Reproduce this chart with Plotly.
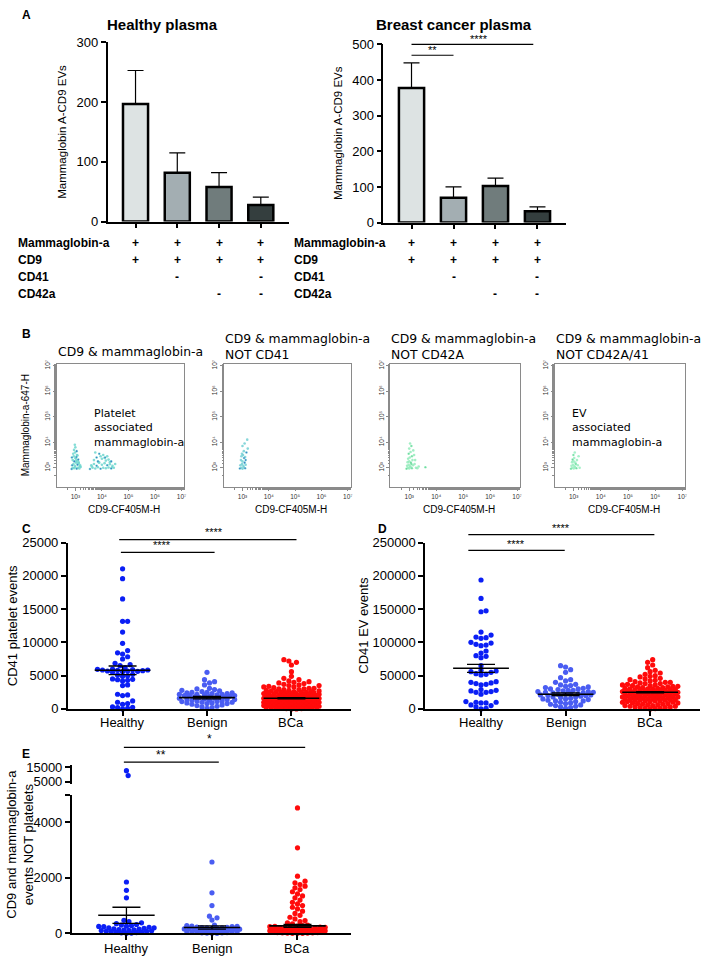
import plotly.graph_objects as go
import math

W, H = 713, 965

# ---------------- DATA ----------------
healthy_plasma_mean = [197, 82, 58, 28]
healthy_plasma_sem = [56, 33, 24, 13]
bc_plasma_mean = [378, 70, 103, 32]
bc_plasma_sem = [70, 30, 22, 12]
bar_colors = ["#dde3e3", "#a3aeb2", "#707c7c", "#343e3e"]

table_rows = ["Mammaglobin-a", "CD9", "CD41", "CD42a"]
table_marks = [["+", "+", "+", "+"], ["+", "+", "+", "+"], ["", "-", "", "-"], ["", "", "-", "-"]]

flow_titles = ["CD9 & mammaglobin-a", "CD9 & mammaglobin-a<br>NOT CD41",
               "CD9 & mammaglobin-a<br>NOT CD42A", "CD9 & mammaglobin-a<br>NOT CD42A/41"]
flow_tick_vals = [3, 4, 5, 6, 7]
flow_tick_text = ["10³", "10⁴", "10⁵", "10⁶", "10⁷"]

f1_logx = [2.86, 2.9, 2.95, 3.0, 3.05, 3.1, 3.15, 3.2, 2.88, 2.93, 2.98, 3.03, 3.08, 3.13, 3.18, 2.9, 2.96, 3.02,
           3.07, 3.12, 2.87, 2.94, 3.0, 3.06, 3.11, 3.17, 2.92, 2.99, 3.04, 3.1, 2.95, 3.0, 3.05, 2.98, 3.08, 3.02,
           3.55, 3.65, 3.75, 3.85, 3.95, 4.05, 4.15, 4.25, 4.35, 4.45, 3.6, 3.7, 3.8, 3.9, 4.0, 4.1, 4.2, 4.3, 4.4,
           3.7, 3.85, 4.0, 4.15, 4.3, 3.8, 3.95, 4.1, 4.25, 3.9, 4.05, 4.2, 3.75, 4.35, 4.5, 3.62, 3.88, 4.12, 4.38]
f1_logy = [2.95, 3.0, 2.98, 3.02, 2.96, 3.0, 2.97, 3.03, 3.1, 3.15, 3.08, 3.2, 3.12, 3.18, 3.1, 3.3, 3.25, 3.35,
           3.28, 3.22, 3.4, 3.45, 3.38, 3.5, 3.32, 3.05, 3.55, 3.6, 3.42, 3.15, 3.7, 3.8, 3.65, 3.9, 3.48, 3.25,
           2.95, 3.0, 2.97, 3.02, 2.96, 3.0, 2.98, 3.01, 2.97, 3.0, 3.1, 3.15, 3.08, 3.2, 3.12, 3.18, 3.1, 3.14, 3.08,
           3.3, 3.25, 3.35, 3.28, 3.22, 3.4, 3.45, 3.38, 3.32, 3.55, 3.5, 3.45, 3.6, 3.25, 3.15, 3.05, 3.22, 3.4, 3.02]
f2_logx = [2.9, 2.95, 3.0, 3.05, 3.1, 2.92, 2.98, 3.03, 3.08, 3.12, 2.94, 3.0, 3.06, 2.96, 3.02, 3.1, 3.15, 3.2,
           3.05, 2.98, 3.12, 3.0, 3.18, 3.08]
f2_logy = [2.97, 3.0, 2.96, 3.02, 2.98, 3.1, 3.15, 3.08, 3.2, 3.12, 3.3, 3.25, 3.38, 3.45, 3.5, 3.42, 3.6, 3.75,
           3.65, 3.55, 3.3, 3.85, 4.1, 3.95]
f3_logx = [2.9, 2.95, 3.0, 3.05, 3.1, 2.92, 2.98, 3.03, 3.08, 3.14, 2.94, 3.0, 3.06, 3.12, 2.96, 3.02, 3.1, 3.18,
           3.22, 3.25, 2.98, 3.05, 3.15, 3.0, 3.08, 3.3, 3.35, 3.03, 3.6, 3.2]
f3_logy = [2.96, 3.0, 2.97, 3.02, 2.98, 3.08, 3.12, 3.06, 3.15, 3.1, 3.22, 3.25, 3.2, 3.3, 3.35, 3.4, 3.45, 3.5,
           3.3, 3.0, 3.55, 3.62, 3.68, 3.75, 3.85, 2.98, 3.05, 3.95, 3.02, 3.15]
f4_logx = [2.9, 2.95, 3.0, 3.05, 3.1, 2.92, 2.98, 3.03, 3.08, 2.94, 3.0, 3.06, 2.96, 3.02, 3.12, 3.18, 2.99, 3.04,
           3.15, 3.22]
f4_logy = [2.96, 3.0, 2.97, 3.02, 2.98, 3.08, 3.12, 3.06, 3.15, 3.22, 3.25, 3.2, 3.32, 3.38, 3.3, 3.45, 3.5, 3.6,
           3.1, 3.0]

groups = ["Healthy", "Benign", "BCa"]
group_colors = ["#0b1ff5", "#4a5df2", "#ff0b0b"]

c_healthy = [21050, 19570, 16520, 13160, 13160, 11540, 9860, 8770, 8430, 8240, 7840, 7500, 6850, 6650, 6500, 6200,
             6000, 5950, 5900, 5850, 5850, 5800, 5750, 5700, 5700, 5650, 5600, 5500, 5200, 5100, 5000, 4900, 4500,
             4450, 4400, 4300, 4200, 3600, 3500, 2200, 2100, 2000, 1200, 1000, 800, 700, 300, 250, 200, 100, 0]
c_benign = [5500, 4400, 4100, 3900, 3600, 3100, 3000, 2900, 2800, 2700, 2600, 2500, 2500, 2400, 2400, 2300, 2300,
            2200, 2200, 2200, 2100, 2100, 2000, 2000, 2000, 1900, 1900, 1800, 1800, 1700, 1700, 1600, 1600, 1500,
            1500, 1400, 1400, 1300, 1300, 1200, 1200, 1100, 1100, 1000, 1000, 900, 900, 800, 800, 700, 600, 500,
            400, 300, 200, 100]
c_bca = [7400, 7200, 7000, 6600, 5600, 4900, 4600, 4400, 4200, 4100, 4000, 3900, 3800, 3700, 3600, 3500, 3500, 3400,
         3300, 3300, 3200, 3100, 3100, 3000, 3000, 2900, 2900, 2800, 2800, 2700, 2700, 2600, 2600, 2600, 2500, 2500,
         2500, 2400, 2400, 2400, 2300, 2300, 2300, 2200, 2200, 2200, 2100, 2100, 2100, 2000, 2000, 2000, 2000, 1900,
         1900, 1900, 1800, 1800, 1800, 1800, 1700, 1700, 1700, 1700, 1600, 1600, 1600, 1600, 1500, 1500, 1500, 1500,
         1400, 1400, 1400, 1400, 1300, 1300, 1300, 1300, 1200, 1200, 1200, 1200, 1100, 1100, 1100, 1100, 1000, 1000,
         1000, 1000, 900, 900, 900, 900, 800, 800, 800, 800, 700, 700, 700, 700, 600, 600, 600, 600, 500, 500, 500,
         500, 400, 400, 400, 400, 300, 300, 300, 300, 200, 200, 200, 200, 100, 100, 100, 100, 50, 50, 0, 0]
c_mean = [5800, 1700, 1600]
c_sem = [650, 180, 90]

d_healthy = [193700, 166000, 147400, 146000, 115400, 111000, 108000, 107000, 106000, 100000, 99000, 97000, 96000,
             95000, 87000, 84000, 80000, 79000, 77000, 65000, 58000, 57000, 56000, 55000, 53000, 52000, 51000, 41000,
             40000, 39000, 38000, 37000, 36000, 29000, 28000, 27000, 26000, 25000, 25000, 22000, 11000, 10000, 10000,
             9000, 9000, 6000, 5000, 3000, 1000, 0]
d_benign = [65000, 63000, 59000, 55000, 47000, 44000, 42000, 40000, 37000, 36000, 35000, 34000, 33000, 32000, 31000,
            30000, 30000, 29000, 28000, 28000, 27000, 26000, 26000, 25000, 25000, 24000, 24000, 23000, 23000, 22000,
            22000, 21000, 21000, 20000, 20000, 19000, 18000, 18000, 17000, 16000, 15000, 15000, 14000, 13000, 12000,
            12000, 11000, 10000, 9000, 8000, 7000, 6000, 5000, 4000, 3000, 2000, 1000]
d_bca = [74000, 70000, 66000, 62000, 58000, 56000, 54000, 52000, 50000, 49000, 48000, 46000, 45000, 44000, 43000,
         42000, 41000, 40000, 40000, 39000, 38000, 38000, 37000, 36000, 36000, 35000, 35000, 34000, 34000, 33000,
         33000, 32000, 32000, 31000, 31000, 30000, 30000, 30000, 29000, 29000, 29000, 28000, 28000, 28000, 27000,
         27000, 27000, 26000, 26000, 26000, 25000, 25000, 25000, 24000, 24000, 24000, 23000, 23000, 23000, 22000,
         22000, 22000, 21000, 21000, 21000, 20000, 20000, 20000, 19000, 19000, 19000, 18000, 18000, 18000, 17000,
         17000, 17000, 16000, 16000, 16000, 15000, 15000, 15000, 14000, 14000, 14000, 13000, 13000, 13000, 12000,
         12000, 12000, 11000, 11000, 10000, 10000, 9000, 9000, 8000, 8000, 7000, 7000, 6000, 6000, 5000, 5000,
         4000, 4000, 3000, 3000, 2000, 2000, 1000, 1000, 500, 0]
d_mean = [61000, 22000, 25000]
d_sem = [6000, 2000, 1000]

e_healthy = [12500, 9200, 1850, 1550, 1280, 470, 420, 380, 350, 320, 300, 280, 260, 250, 240, 220, 200, 200, 180,
             160, 150, 140, 130, 120, 110, 100, 90, 80, 70, 60, 50, 40, 30, 20, 10, 0]
e_benign = [2570, 1460, 1000, 620, 560, 480, 300, 280, 260, 250, 240, 230, 220, 210, 200, 200, 190, 180, 170, 160,
            150, 150, 140, 130, 120, 110, 100, 100, 90, 80, 70, 60, 50, 50, 40, 30, 20, 20, 10, 0, 0]
e_bca = [4520, 3080, 2060, 1880, 1820, 1760, 1700, 1640, 1580, 1500, 1420, 1350, 1280, 1200, 1120, 1060, 1000, 940,
         880, 800, 720, 650, 580, 520, 460, 420, 380, 340, 300, 280, 260, 250, 240, 230, 220, 210, 200, 200, 190,
         180, 180, 170, 160, 160, 150, 150, 140, 140, 130, 130, 120, 120, 110, 110, 100, 100, 90, 90, 80, 80, 70,
         70, 60, 60, 50, 50, 40, 40, 30, 30, 20, 20, 10, 10, 0, 0, 0]
e_mean = [650, 210, 270]
e_sem = [290, 60, 50]


# ---------------- helpers ----------------
def xd(a, b):
    return [a / W, b / W]


def yd(top, bottom):
    return [1 - bottom / H, 1 - top / H]


def ann(x, y, text, size=12, bold=False, xanchor="left", yanchor="middle", family="Liberation Sans",
        angle=0, color="black", align="center"):
    return dict(x=x / W, y=1 - y / H, xref="paper", yref="paper",
                text=f"<b>{text}</b>" if bold else text, showarrow=False, xanchor=xanchor, yanchor=yanchor,
                font=dict(size=size, family=family, color=color), textangle=angle, align=align)


def dann(xref, x, y, text, size=11):
    return dict(x=x, y=1 - y / H, xref=xref, yref="paper", text=text, showarrow=False, xanchor="center",
                yanchor="middle", font=dict(size=size, family="Liberation Sans", color="black"))


def hline(xref, x0, x1, y):
    return dict(type="line", xref=xref, yref="paper", x0=x0, x1=x1, y0=1 - y / H, y1=1 - y / H,
                line=dict(color="black", width=1.2))


def swarm(vals, units_per_px, unit_px, diam, maxw):
    order = sorted(range(len(vals)), key=lambda i: vals[i])
    placed = []
    xs = [0.0] * len(vals)
    step = diam * 0.55
    cands = [0.0]
    k = 1
    while k * step <= maxw:
        cands += [k * step, -k * step]
        k += 1
    for i in order:
        y = vals[i] / units_per_px
        near = [(px, py) for px, py in placed if abs(py - y) < diam]
        best = None
        bestd = -1
        bestc = 0.0
        for c in cands:
            md = min([math.hypot(c - px, y - py) for px, py in near], default=1e9)
            if md >= diam:
                best = c
                break
            if md > bestd:
                bestd = md
                bestc = c
        if best is None:
            best = bestc
        placed.append((best, y))
        xs[i] = best / unit_px
    return xs


fig = go.Figure()
annotations = []
shapes = []
layout = {}

# ---------------- Panel A ----------------
axisline = dict(showline=True, linecolor="black", linewidth=1.5, ticks="outside", ticklen=5, tickwidth=1.5,
                showgrid=False, zeroline=False, tickcolor="black")
for k, (means, sems, dom_x, dom_y, ymax, title, tx) in enumerate([
        (healthy_plasma_mean, healthy_plasma_sem, (108, 290), (36, 218), 300, "Healthy plasma", 163),
        (bc_plasma_mean, bc_plasma_sem, (385, 568), (38, 219), 500, "Breast cancer plasma", 456)]):
    n = "" if k == 0 else "2"
    fig.add_trace(go.Bar(x=list(range(4)), y=means, width=0.6,
                         marker=dict(color=bar_colors, line=dict(color="black", width=2.5)),
                         error_y=dict(type="data", array=sems, arrayminus=[0] * 4, symmetric=False,
                                      color="black", thickness=1.2, width=8),
                         xaxis="x" + n, yaxis="y" + n, showlegend=False))
    layout["xaxis" + n] = dict(axisline, domain=xd(*dom_x), anchor="y" + n, range=[-0.67, 3.67],
                               tickvals=[0, 1, 2, 3], showticklabels=False)
    layout["yaxis" + n] = dict(axisline, domain=yd(*dom_y), anchor="x" + n, range=[0, ymax],
                               dtick=100, tickfont=dict(size=13, family="Liberation Sans", color="black"))
    annotations.append(ann(tx, 18, title, size=15, bold=True, xanchor="center"))
    annotations.append(ann(dom_x[0] - 46, (dom_y[0] + dom_y[1]) / 2, "Mammaglobin A-CD9 EVs", size=11.5,
                           xanchor="center", angle=-90))
    lab_x = 16 if k == 0 else 293
    for r, (lab, marks) in enumerate(zip(table_rows, table_marks)):
        yy = 240 + r * 17.3
        annotations.append(ann(lab_x, yy, lab, size=12, bold=True))
        for c, m in enumerate(marks):
            if m:
                annotations.append(dann("x" + n, c, yy, f"<b>{m}</b>", size=12))

shapes.append(hline("x2", 0, 1, 49))
shapes.append(hline("x2", 0, 2.9, 38))
annotations.append(dann("x2", 0.5, 44, "**"))
annotations.append(dann("x2", 1.6, 33, "****"))
annotations.append(ann(20, 8, "A", size=12, bold=True))

# ---------------- Panel B ----------------
flow_x = [(57, 185), (225, 352), (392, 522), (557, 688)]
flow_pts = [(f1_logx, f1_logy, "#6fd6cf"), (f2_logx, f2_logy, "#72cfd3"),
            (f3_logx, f3_logy, "#93ebbb"), (f4_logx, f4_logy, "#98edbf")]
for i in range(4):
    n = str(3 + i)
    lx, ly, col = flow_pts[i]
    fig.add_trace(go.Scatter(x=[10 ** v for v in lx], y=[10 ** v for v in ly], mode="markers",
                             marker=dict(size=2.6, color=col, opacity=0.85), xaxis="x" + n, yaxis="y" + n,
                             showlegend=False))
    accent = "#3d7fc8" if i < 2 else "#6cd89c"
    fig.add_trace(go.Scatter(x=[10 ** v for v in lx[::4]], y=[10 ** v for v in ly[::4]], mode="markers",
                             marker=dict(size=1.6, color=accent), xaxis="x" + n, yaxis="y" + n,
                             showlegend=False))
    fa = dict(type="log", showline=True, mirror=True, linecolor="#8a8a8a", linewidth=1, ticks="outside",
              ticklen=3, tickcolor="#8a8a8a", showgrid=False, zeroline=False,
              tickvals=[10 ** v for v in flow_tick_vals], ticktext=flow_tick_text,
              tickfont=dict(size=6.5, family="Liberation Sans", color="#333"),
              minor=dict(ticks="outside", ticklen=1.5, tickcolor="#8a8a8a", showgrid=False))
    layout["xaxis" + n] = dict(fa, domain=xd(*flow_x[i]), anchor="y" + n, range=[2.3, 7.1])
    layout["yaxis" + n] = dict(fa, domain=yd(363, 488), anchor="x" + n, range=[2.23, 7.05], tickangle=-90)
    annotations.append(ann((flow_x[i][0] + flow_x[i][1]) / 2 + 4, 510, "CD9-CF405M-H", size=10,
                           xanchor="center"))
    title_y = 350 if i == 0 else 345
    annotations.append(ann(flow_x[i][0] - 1, title_y, flow_titles[i], size=12.4, family="DejaVu Sans",
                           xanchor="left", align="left"))

annotations.append(ann(25, 425, "Mammaglobin-a-647-H", size=10, xanchor="center", angle=-90))
shapes.append(dict(type="rect", xref="x3", yref="y3", x0=3.42, x1=6.9, y0=2.8, y1=5.51,
                   line=dict(color="black", width=1.6)))
shapes.append(dict(type="rect", xref="x6", yref="y6", x0=2.78, x1=6.15, y0=2.8, y1=5.51,
                   line=dict(color="black", width=1.6)))
annotations.append(ann(92, 428, "Platelet<br>associated<br>mammaglobin-a", size=11, family="DejaVu Sans",
                       align="left"))
annotations.append(ann(572, 428, "EV<br>associated<br>mammaglobin-a", size=11, family="DejaVu Sans",
                       align="left"))
annotations.append(ann(20, 332, "B", size=12, bold=True))

# ---------------- Panels C, D, E ----------------
dot_axis = dict(showline=True, linecolor="black", linewidth=1.5, ticks="outside", ticklen=5, tickwidth=1.5,
                tickcolor="black", showgrid=False, zeroline=False, tickformat="d",
                tickfont=dict(size=13, family="Liberation Sans", color="black"))


def dot_panel(n, data, means, sems, upp, unit_px, split=None, n_up=None):
    for g, vals in enumerate(data):
        xs = [g + v for v in swarm(vals, upp, unit_px, 4.6, 28)]
        lo = [(x, v) for x, v in zip(xs, vals) if split is None or v <= split]
        hi = [(x, v) for x, v in zip(xs, vals) if split is not None and v > split]
        fig.add_trace(go.Scatter(x=[p[0] for p in lo], y=[p[1] for p in lo], mode="markers", cliponaxis=False,
                                 marker=dict(size=5.2, color=group_colors[g]), xaxis="x" + n, yaxis="y" + n,
                                 showlegend=False))
        if hi:
            fig.add_trace(go.Scatter(x=[g + 0.02 * j for j in range(len(hi))], y=[p[1] for p in hi],
                                     mode="markers", cliponaxis=False,
                                     marker=dict(size=5.2, color=group_colors[g]),
                                     xaxis="x" + n_up, yaxis="y" + n_up, showlegend=False))
        fig.add_trace(go.Scatter(x=[g - 0.33, g + 0.33], y=[means[g], means[g]], mode="lines",
                                 line=dict(color="black", width=1.6), xaxis="x" + n, yaxis="y" + n,
                                 showlegend=False))
        fig.add_trace(go.Scatter(x=[g], y=[means[g]], mode="markers", marker=dict(size=1, opacity=0),
                                 error_y=dict(type="data", array=[sems[g]], color="black", thickness=1.3,
                                              width=14),
                                 xaxis="x" + n, yaxis="y" + n, showlegend=False))


def cat_labels(xref, y):
    for g, name in enumerate(groups):
        annotations.append(dann(xref, g, y, name, size=13))


# C
dot_panel("7", [c_healthy, c_benign, c_bca], c_mean, c_sem, 25000 / 169, 85)
layout["xaxis7"] = dict(dot_axis, domain=xd(68, 352), anchor="y7", range=[-0.65, 2.7], tickvals=[0, 1, 2],
                        showticklabels=False)
layout["yaxis7"] = dict(dot_axis, domain=yd(544, 713), anchor="x7", range=[0, 25000], dtick=5000)
cat_labels("x7", 727)
annotations.append(ann(12, 628, "CD41 platelet events", size=13, xanchor="center", angle=-90))
shapes.append(hline("x7", -0.04, 2.06, 541))
shapes.append(hline("x7", -0.02, 1.09, 554))
annotations.append(dann("x7", 1.08, 533, "****"))
annotations.append(dann("x7", 0.47, 547, "****"))
annotations.append(ann(20, 530, "C", size=12, bold=True))

# D
dot_panel("8", [d_healthy, d_benign, d_bca], d_mean, d_sem, 250000 / 169, 85)
layout["xaxis8"] = dict(dot_axis, domain=xd(427, 703), anchor="y8", range=[-0.66, 2.59], tickvals=[0, 1, 2],
                        showticklabels=False)
layout["yaxis8"] = dict(dot_axis, domain=yd(544, 713), anchor="x8", range=[0, 250000], dtick=50000)
cat_labels("x8", 727)
annotations.append(ann(365, 628, "CD41 EV events", size=13, xanchor="center", angle=-90))
shapes.append(hline("x8", -0.15, 2.05, 536))
shapes.append(hline("x8", -0.15, 0.99, 552))
annotations.append(dann("x8", 0.94, 529, "****"))
annotations.append(dann("x8", 0.41, 545, "****"))
annotations.append(ann(378, 530, "D", size=12, bold=True))

# E
dot_panel("9", [e_healthy, e_benign, e_bca], e_mean, e_sem, 5000 / 141, 86, split=5000, n_up="10")
layout["xaxis9"] = dict(dot_axis, domain=xd(72, 352), anchor="y9", range=[-0.64, 2.62], tickvals=[0, 1, 2],
                        showticklabels=False)
layout["yaxis9"] = dict(dot_axis, domain=yd(800, 941), anchor="x9", range=[0, 5000],
                        tickvals=[0, 2000, 4000, 5000], ticktext=["0", "2000", "4000", ""])
layout["xaxis10"] = dict(domain=xd(72, 352), anchor="y10", range=[-0.64, 2.62], visible=False)
layout["yaxis10"] = dict(dot_axis, domain=yd(770, 789), anchor="x10", range=[3667, 16333],
                         tickvals=[5000, 15000], ticktext=["5000", "15000"])
cat_labels("x9", 956)
annotations.append(ann(20, 850, "CD9 and mammaglobin-a<br>events NOT platelets", size=13, xanchor="center",
                       angle=-90))
shapes.append(hline("x9", -0.03, 2.09, 752))
shapes.append(hline("x9", -0.03, 1.08, 767))
annotations.append(dann("x9", 0.97, 744, "*", size=12))
annotations.append(dann("x9", 0.4, 760, "**", size=12))
annotations.append(ann(20, 759, "E", size=12, bold=True))

fig.update_layout(width=W, height=H, margin=dict(l=0, r=0, t=0, b=0), plot_bgcolor="white",
                  paper_bgcolor="white", showlegend=False, annotations=annotations, shapes=shapes,
                  font=dict(family="Liberation Sans", color="black"), **layout)
fig.write_html("out.html", config={"displayModeBar": False},
               post_script="document.body.style.margin='0px';document.body.style.overflow='hidden';")
